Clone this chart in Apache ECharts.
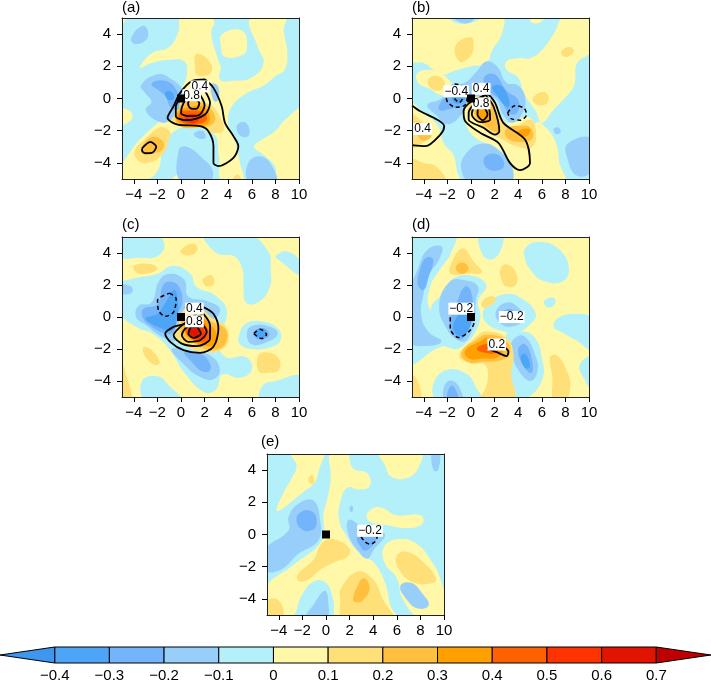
<!DOCTYPE html>
<html><head><meta charset="utf-8">
<style>html,body{margin:0;padding:0;background:#fff}#c{width:711px;height:683px}</style>
<script src="https://cdn.jsdelivr.net/npm/echarts@6/dist/echarts.min.js"></script>
</head><body><div id="c"></div>
<script>
const bandEdges=[-0.4,-0.3,-0.2,-0.1,0,0.1,0.2,0.3,0.4,0.5,0.6,0.7];
const bandColors=['#4FA5F5','#74B4FA','#98CFFA','#B4F0FA','#FFF8A8','#FFE078','#FFC040','#FFA000','#FF6000','#FF3300','#E01400'];
const lowColor='#3D97EF', highColor='#C00000';
const xTicks=[-4,-2,0,2,4,6,8,10];
const yTicks=[-4,-2,0,2,4];
const colorTicks=[-0.4,-0.3,-0.2,-0.1,0,0.1,0.2,0.3,0.4,0.5,0.6,0.7];

const regionsA=[
[-0.05,[[-5,5],[10,5],[10,-5],[-5,-5]]],
[0.05,[[0,5],[2.6,5],[2.8,3.6],[3.4,2.2],[3.3,1.2],[4.5,1.1],[6,1.3],[7,2.2],[6.5,3.2],[5.9,5],[8.8,5],[8.7,4.2],[9,3.0],[8.8,1.8],[8,1.4],[7,0.8],[5.5,0.3],[4.3,-0.5],[4.0,-1.5],[4.5,-2.5],[5,-4],[5.2,-5.2],[3.5,-5.2],[3.2,-3.5],[2.8,-2.2],[1,-1.8],[-0.5,-2],[-1.5,-3],[-2,-4.5],[-3.5,-5.2],[-5.2,-5.2],[-5.2,-4.5],[-4,-3],[-3,-2.2],[-1.5,-1.2],[-0.5,-0.4],[0,0.5],[0.5,1.5],[0.3,2.3],[-1,2.4],[-2.5,2.2],[-3.5,1.9],[-2.5,2.8],[-1,3.2],[-0.2,4.2]]],
[0.05,[[-5.2,-0.7],[-4.3,-0.8],[-4.2,-1.3],[-5.2,-1.6]]],
[0.05,[[10.2,-0.7],[9,-1.2],[8,-2],[6.8,-2.6],[6.2,-3],[7,-3.5],[8,-4.3],[8,-5.2],[10.2,-5.2]]],
[0.05,[[-5.2,5.2],[-4.5,5.2],[-5.2,4.5]]],
[-0.05,[[2.8,4.6],[5.5,4.6],[6,3],[5.5,1.7],[4,1.7],[3.2,2.3]]],
[0.05,[[3.5,4],[5.2,4.2],[5.6,3.2],[5.2,2.7],[3.7,2.6],[3.4,3.2]]],
[0.05,[[-0.8,-5.2],[-0.2,-4.7],[0.5,-5.2]]],
[0.15,[[1.2,2.7],[1.8,2.7],[2.5,2.2],[2.6,1.7],[2,1.4],[1.3,1.5],[1.2,2]]],
[0.15,[[0.3,0.1],[2.5,-0.4],[3.2,-1],[3.6,-2],[2.5,-2.1],[1.5,-1.7],[0,-1.7],[-0.8,-1.4],[-0.2,-0.6]]],
[0.15,[[-3.9,-3.2],[-3,-2.5],[-1.8,-1.8],[-1,-2],[-1,-2.5],[-1.6,-3.5],[-2.8,-4],[-3.7,-3.8]]],
[0.15,[[4.3,-5.2],[4.8,-4.7],[5.1,-5.2]]],
[0.25,[[0.3,-0.2],[1.5,-0.2],[2.7,-.8],[2.8,-1.5],[1.5,-1.8],[-.2,-1.7],[-0.4,-1]]],
[0.25,[[-3.3,-3],[-2.5,-2.4],[-1.6,-2.6],[-1.5,-3.1],[-2.3,-3.4],[-3.2,-3.4]]],
[0.35,[[-.2,-.8],[1,-.5],[1.8,-.5],[2.4,-1],[2.2,-1.6],[.5,-1.7],[-.3,-1.4]]],
[0.45,[[-0.1,-0.9],[0.8,-0.75],[2,-0.9],[2.1,-1.4],[0.8,-1.6],[-.1,-1.35]]],
[0.55,[[0.35,-1.1],[1,-.95],[1.5,-1.1],[1.4,-1.45],[0.7,-1.5]]],
[-0.15,[[-3.4,0.8],[-2,1.5],[-0.8,1.2],[0.2,0.5],[0.1,0.1],[-0.3,-0.6],[-1,-1.4],[-2,-1.4],[-3,-0.7],[-2.5,-0.2],[-3,0.3]]],
[-0.15,[[-4.2,3.8],[-3.3,4.5],[-2.8,4.2],[-3,3.6],[-4,3.4]]],
[-0.15,[[2.6,0.9],[3.1,0.8],[3.2,0],[2.9,-0.2],[2.6,0.2]]],
[-0.15,[[4.8,-1.6],[5.5,-1.5],[5.8,-2.2],[5.3,-2.4],[4.8,-2.1]]],
[-0.15,[[1.1,-2.2],[1.8,-2],[2.1,-2.4],[1.6,-2.5]]],
[-0.15,[[-0.2,-3.2],[0.5,-3.0],[1.8,-3.7],[2.7,-4.5],[2.3,-5.2],[0,-5.2]]],
[-0.15,[[5.7,-4],[6.8,-3.6],[7.8,-4.3],[8,-5.2],[5.8,-5.2]]],
[-0.25,[[-2.5,0.9],[-1.3,1.1],[-0.3,0.4],[-0.2,-0.6],[-0.8,-0.6],[-1.4,0.2]]],
[-0.35,[[-1.3,0.4],[-0.8,0.4],[-0.6,0],[-0.9,-0.1],[-1.2,0]]]
];
const contoursA=[
[0,[[2.04,1.18],[2.75,.66],[3.45,-.48],[3.73,-1.51],[4.44,-2.34],[4.86,-2.96],[4.44,-3.69],[3.17,-4.2],[2.75,-4],[2.75,-2.96],[2.32,-2.03],[1.62,-1.72],[-.35,-1.61],[-1.14,-1.2],[-.63,-.48],[-.07,.35],[.92,1.08],[2.04,1.18]]],
[0,[[1.96,.56],[2.46,-.27],[2.04,-.99],[.49,-1.35],[-.44,-1.1],[-.44,-.48],[.35,.25],[1.34,.6],[1.96,.56]]],
[0,[[1.6,.25],[2,-.4],[1.6,-1],[.8,-1.1],[0,-.9],[.2,-.3],[.8,.2],[1.6,.25]]],
[0,[[.7,-.1],[1.2,0],[1.55,-.3],[1.3,-.65],[.8,-.6],[.6,-.3],[.7,-.1]]],
[0,[[-3.3,-3.1],[-2.6,-2.7],[-2.1,-3],[-2.4,-3.35],[-3,-3.4],[-3.3,-3.25],[-3.3,-3.1]]]
];
const labelsA=[[1.6,.75,'0.4'],[.9,.2,'0.8']];

const regionsB=[
[-0.05,[[-5,5],[10,5],[10,-5],[-5,-5]]],
[0.05,[[-5.2,5.2],[-2.3,5.2],[-1.3,4.7],[0,4.7],[1.5,5.2],[2.7,5.2],[2.6,4],[1.8,3],[1.3,2.2],[0,2],[-1.5,1.7],[-2.5,1.5],[-4,2.2],[-5.2,2.4]]],
[0.05,[[-4.5,1.6],[-3,1.7],[-1.7,1],[-1.6,0.4],[-2.5,0.2],[-3.5,0.6],[-4.5,1]]],
[0.05,[[-5.2,-0.3],[-4,-0.9],[-2.8,-1.7],[-2.3,-2.8],[-1.5,-3.5],[-1.2,-4.5],[-1,-5.2],[-5.2,-5.2]]],
[0.05,[[0,0.3],[1.5,0.1],[2,-0.5],[3,-1.5],[4,-1.3],[5,-1.2],[5.6,-2.2],[5.5,-3],[6.5,-3.6],[6.2,-4.5],[7,-5.2],[3,-5.2],[3.3,-4],[2,-3],[0.5,-2.5],[-0.5,-1.5],[-0.5,-0.5]]],
[0.05,[[3,2.3],[4,2.5],[5,2.5],[6,3],[7,4],[8,5.2],[10.2,5.2],[10.2,3],[9,2.2],[8.8,1],[8.5,0.5],[7,-0.7],[6,-1.5],[5.5,-0.8],[4.5,0.3],[4,1.3],[3,1.8]]],
[0.05,[[5.5,-1.5],[6.6,-2],[7.3,-3],[7.5,-4],[8,-5.2],[6.5,-5.2],[5.5,-3.5]]],
[0.05,[[5,5.2],[6.2,5.2],[6,4.8],[5.2,4.7]]],
[0.15,[[-1.3,3.3],[0,3.8],[0.2,3.1],[-0.2,2.5],[-1,2.3]]],
[0.15,[[7.7,3],[8.4,3.2],[8.7,2.9],[8.2,2.6],[7.7,2.7]]],
[0.15,[[5.3,0.1],[6.2,0.4],[6.6,0],[6.2,-0.4],[5.4,-0.3]]],
[0.15,[[-3.6,1.2],[-2.8,1.4],[-2.2,0.9],[-2.7,0.5],[-3.5,0.7]]],
[0.15,[[0.1,0.1],[1.5,0.2],[2.4,-0.9],[2.9,-1.5],[3.5,-1.9],[5,-1.3],[5.5,-2],[5.2,-3],[4,-3],[2.5,-2.5],[1.5,-2.1],[0.3,-1.3],[-0.3,-0.7]]],
[0.15,[[-5.2,-1],[-4,-1.5],[-3.5,-2],[-4,-2.7],[-5.2,-3]]],
[0.15,[[-5.2,-3.8],[-4,-4],[-3,-4.2],[-2.2,-5.2],[-5.2,-5.2]]],
[0.25,[[0.5,-0.5],[1.5,-0.1],[2,-0.9],[2.5,-1.8],[2.2,-2.1],[1.2,-1.7],[0.3,-1]]],
[0.25,[[3,-1.9],[4,-1.7],[5,-1.8],[5.2,-2.5],[4,-2.7],[3,-2.4]]],
[0.25,[[-4.5,-2],[-3.5,-2.0],[-3.4,-2.4],[-4.2,-2.6]]],
[0.35,[[0.5,-0.8],[1.2,-0.5],[1.6,-1],[1.5,-1.3],[0.9,-1.4]]],
[0.35,[[4,-2],[5,-1.9],[4.8,-2.3],[4,-2.3]]],
[-0.15,[[-3.7,-0.4],[-2.5,0],[-1.8,0.8],[-0.5,1.0],[0.5,1.7],[1.3,2.3],[2.2,2],[3,1.0],[4,0.8],[4.6,0],[4.3,-1],[3.5,-1.5],[2.7,-1],[2,0],[0,0],[-0.8,-1],[-2,-1.6],[-3,-1]]],
[-0.25,[[-2.7,-0.7],[-2.3,0],[-1,0.6],[-0.3,0.2],[-0.5,-0.4],[-1.5,-0.6]]],
[-0.25,[[1.1,1.3],[2,1.5],[3,0.5],[4,-0.1],[3.9,-0.9],[3.2,-0.9],[2.5,-0.1],[1.5,0.5]]],
[-0.35,[[-1.6,0.2],[-1,0.5],[-0.5,0.1],[-0.9,-0.3],[-1.5,-0.2]]],
[-0.35,[[1.8,0.7],[2.5,0.8],[3.2,0],[3.2,-0.5],[2.8,-0.4],[2.2,0.2]]],
[-0.15,[[-0.5,-3.5],[1,-2.8],[2.5,-3.3],[3.5,-4.3],[3.3,-5.2],[0,-5.2],[-0.8,-4.5]]],
[-0.25,[[1.2,-3.6],[2.3,-3.5],[2.8,-4.2],[2,-4.5],[1.2,-4.2]]],
[-0.15,[[8.2,-2.8],[10.2,-2.5],[10.2,-4.5],[9,-4.8],[8.2,-3.8]]],
[-0.15,[[7.0,-1.9],[7.4,-1.8],[7.6,-2.1],[7.2,-2.2]]],
[-0.15,[[-1.5,5.2],[0.3,5.2],[0,4.75],[-1,4.75]]]
];
const contoursB=[
[0,[[1.48,.25],[2.04,-.27],[2.75,-1.51],[4.58,-2.55],[5,-4],[4.15,-4.45],[3.3,-4],[2.32,-2.75],[.77,-2.13],[-.49,-1.41],[-.63,-.79],[.07,-.17],[1.48,.25]]],
[0,[[1.2,.25],[1.9,-.48],[2.4,-2.03],[2.04,-2.24],[1.06,-1.82],[-.2,-1.3],[-.2,-.89],[.35,-.27],[1.2,.25]]],
[0,[[.92,.14],[1.48,-.48],[1.62,-1.3],[.77,-1.47],[.07,-.99],[.35,-.37],[.92,.14]]],
[0,[[1.06,-.48],[1.4,-.99],[1,-1.35],[.55,-.99],[.63,-.58],[1.06,-.48]]],
[0,[[-5,-.43],[-4.3,-.79],[-2.9,-1.3],[-2.27,-1.72],[-2.6,-2.24],[-3.87,-2.96],[-5,-2.9]]],
[1,[[-1.4,.9],[-.8,.8],[-.3,.3],[-.5,-.4],[-1.3,-.55],[-2,-.2],[-2.1,.2],[-1.4,.9]]],
[1,[[-1.4,0],[-1,-.25],[-.7,0]]],
[1,[[3.1,-.9],[3.7,-.45],[4.5,-.6],[4.7,-1],[4.2,-1.35],[3.4,-1.25],[3.1,-.9]]]
];
const labelsB=[[-1.25,.45,'−0.4'],[.86,.6,'0.4'],[.86,-.3,'0.8'],[-4.1,-1.9,'0.4']];

const regionsC=[
[0.05,[[-5,5],[10,5],[10,-5],[-5,-5]]],
[-0.05,[[-5.2,5.2],[-2.2,5.2],[-1.4,4.5],[-2,3.8],[-3.5,3.7],[-5.2,3.8]]],
[-0.05,[[2,5.2],[5.6,5.2],[7.4,4.1],[7.6,3],[7.5,1.8],[6.5,0.9],[5.5,0.9],[5.3,1.9],[5.2,3],[4.5,3.8],[3,4]]],
[-0.05,[[8,3.8],[9,4.1],[10.2,3.4],[10.2,2.6],[8.4,3.5]]],
[-0.05,[[-5.2,2],[-4,2.4],[-2,2.7],[-0.7,3.2],[0.8,2.7],[1.3,1.9],[3,1.3],[3.9,0.3],[3.2,-1.5],[3.8,-2.5],[5.5,-2.5],[6,-3.3],[5,-3.8],[3.5,-3.6],[3,-4.5],[2,-4.7],[0.3,-3.5],[-1,-2],[-2.5,-1],[-3.6,-.7],[-5.2,0.3]]],
[-0.05,[[-3.3,-4],[-2,-3.7],[-1,-4.3],[0,-5.2],[-3,-5.2]]],
[-0.05,[[6.8,-5.2],[6.9,-4.3],[8,-4],[10.2,-3.7],[10.2,-5.2]]],
[-0.05,[[4.9,-1.2],[5.5,-.4],[7,-.3],[8.3,-.8],[8.4,-1.5],[7.5,-1.9],[6,-2],[5,-1.7]]],
[0.15,[[0,4.2],[1,4.6],[1.4,4.3],[1,3.9],[0.2,3.9]]],
[0.15,[[-4,3.2],[-2.5,3.3],[-2,3],[-3,2.7],[-3.8,2.8]]],
[0.15,[[1.9,2.4],[2.6,2.6],[2.8,2.1],[2.3,1.9],[1.9,2.1]]],
[0.15,[[-3.2,-1.9],[-2.6,-2],[-1.8,-2.8],[-2.2,-3],[-3,-2.5]]],
[0.15,[[-5.2,-2.6],[-4.7,-3.5],[-4.2,-5.2],[-5.2,-5.2]]],
[0.15,[[6.5,-2.5],[7,-2.2],[8.2,-2.5],[8.3,-3.3],[7.3,-3.5],[6.6,-3.4]]],
[-0.15,[[-5.2,2],[-4.2,1.9],[-4.2,1.5],[-5.2,1.5]]],
[-0.15,[[-3.6,.7],[-2.5,.9],[-1.9,2.2],[-1,2.7],[.3,2.3],[.6,1.3],[2.2,1],[3.3,.5],[2.6,-.2],[.2,-.3],[0,-.8],[-.5,-1.5],[-1.5,-1.3],[-3,-.5],[-3.8,0]]],
[-0.15,[[-.8,-2],[1,-2.2],[2.5,-2.4],[3.3,-3.3],[2.7,-3.9],[1.5,-3.7],[0.3,-3]]],
[-0.15,[[5.6,-.9],[6.3,-.5],[7.5,-.6],[8.2,-1],[7.5,-1.5],[6,-1.7]]],
[-0.25,[[-3.2,.5],[-2,.8],[-1.5,2],[-.8,2.2],[-.1,1.8],[.1,.9],[-.3,.1],[-.7,-1],[-1.5,-1],[-2.5,-.6],[-3.2,-.1]]],
[-0.25,[[.3,-2.2],[1.5,-2.3],[2.2,-2.6],[2.5,-3.3],[1.8,-3.4],[.9,-2.8]]],
[-0.25,[[6.2,-.9],[7,-.7],[7.5,-1.1],[7,-1.4],[6.3,-1.3]]],
[-0.35,[[-3,-.1],[-2,.2],[-1.3,.9],[-.6,1.7],[-.3,1.2],[-.3,.1],[-.7,-.8],[-1.4,-.8]]],
[-0.35,[[6.2,-1],[6.9,-.7],[7.2,-1.1],[6.8,-1.35]]],
[0.15,[[0.3,0.5],[1.5,0.6],[2.7,-.1],[3.8,-.6],[4,-1.5],[3.3,-2.1],[2,-2.2],[0.6,-1.9],[-.6,-1.3],[-.3,-.6]]],
[0.25,[[0.4,0.3],[1.6,0.3],[2.6,-.3],[3.7,-.7],[3.9,-1.4],[3.2,-2],[2,-2],[1,-1.6],[0,-1.1]]],
[0.35,[[0.5,-.1],[1.6,0],[2.5,-.5],[3,-1],[3,-1.7],[2,-1.8],[1,-1.5],[.3,-.9]]],
[0.45,[[.6,-.3],[1.6,-.2],[2.3,-.8],[2.4,-1.4],[1.8,-1.6],[1,-1.4],[.4,-.9]]],
[0.55,[[.7,-.5],[1.5,-.4],[2,-.9],[2.1,-1.3],[1.5,-1.4],[.8,-1.2],[.6,-.8]]],
[0.65,[[.8,-.6],[1.4,-.6],[1.5,-1.1],[1.1,-1.2],[.75,-1]]]
];
const contoursC=[
[0,[[1.9,.62],[2.75,.2],[3.17,-.72],[2.75,-1.86],[1.62,-2.24],[.21,-2.07],[-.92,-1.55],[-1.34,-1.04],[-.63,-.62],[.35,-.4],[1.9,.62]]],
[0,[[1.9,.2],[2.46,-.52],[2.46,-1.35],[1.34,-1.82],[.07,-1.66],[-.63,-1.14],[-.07,-.62],[.5,-.31],[1.9,.2]]],
[0,[[1.62,-.31],[2.18,-.93],[1.62,-1.45],[.63,-1.55],[.07,-1.14],[.5,-.62],[1.62,-.31]]],
[0,[[1.39,-.62],[1.68,-1.04],[1.06,-1.3],[.63,-1.04],[.92,-.62],[1.39,-.62]]],
[1,[[-.97,1.49],[-.41,1.14],[-.63,.31],[-1.34,.04],[-1.9,.41],[-1.99,1.04],[-.97,1.49]]],
[1,[[6.18,-1.04],[6.69,-.77],[7.25,-1.1],[6.83,-1.35],[6.18,-1.04]]]
];
const labelsC=[[1.14,.52,'0.4'],[1.14,-.27,'0.8']];

const regionsD=[
[0.05,[[-5,5],[10,5],[10,-5],[-5,-5]]],
[-0.05,[[-5.2,5.2],[-1.4,5.2],[-1.7,4],[-2.6,3],[-3.5,1.8],[-3.5,.5],[-2,-1],[-1.5,-1.5],[-3,-2],[-5.2,-2.8]]],
[-0.05,[[-3.4,.5],[-2.5,1.4],[-1.5,2.4],[0,2.6],[1.3,2],[.6,1],[.8,0],[.3,-1],[-.5,-1.7],[-1.5,-2],[-3,-1.3]]],
[-0.05,[[.8,5.2],[2.6,5.2],[2.4,4],[1.5,3.6],[.8,4.2]]],
[-0.05,[[1,.2],[1.7,1],[2.7,1.4],[4,1.3],[5.5,.2],[4.8,-.6],[3.8,-1],[2.8,-.9],[1.5,-.5]]],
[-0.05,[[2.9,-1.2],[4,-.9],[5.3,-1.2],[6,-2.5],[6,-4],[4.5,-5.2],[3.7,-5.2],[3.2,-3.5]]],
[-0.05,[[4.6,4.3],[5.8,4.7],[7.5,4.2],[8.3,3],[7.7,2.2],[6,2.3],[5,3],[4.6,3.6]]],
[-0.05,[[6.2,1],[7,1.2],[7.1,.8],[6.5,.6]]],
[-0.05,[[7,-.6],[7.5,0],[9,.2],[10.2,-.1],[10.2,-2],[9,-1.5],[7.8,-1]]],
[-0.05,[[10.2,-2.5],[9.2,-3],[9.7,-4],[10.2,-4.5]]],
[-0.05,[[-3.2,-4.2],[-2,-3.3],[-.3,-3.6],[.5,-4.5],[1,-5.2],[-2.8,-5.2]]],
[-0.15,[[-5.2,1.5],[-4.5,3],[-3.7,4.2],[-2.5,4.4],[-2.7,3.6],[-3.5,2.7],[-4,1.5],[-4.2,0],[-3.5,-1],[-2.5,-1.5],[-3.5,-1.8],[-5.2,-1.5]]],
[-0.15,[[-2.7,.7],[-1.8,2.2],[-.5,2.3],[.6,1.9],[.4,1],[.3,-.2],[-.3,-1.4],[-1,-1.5],[-2,-.8]]],
[-0.15,[[2.1,.3],[3,.9],[4,.6],[4.5,-.1],[3.5,-.6],[2.5,-.4]]],
[-0.15,[[3.5,-1.5],[4.5,-1.2],[5.5,-2.5],[5.6,-3.5],[5,-4],[4,-3.3],[3.5,-2.3]]],
[-0.15,[[-2.2,-4.2],[-1.5,-4],[-.8,-4.7],[-.8,-5.2],[-2.2,-5.2]]],
[-0.25,[[-4.3,3],[-3.8,3.7],[-3.2,3.6],[-3.6,2.5],[-4,1.7],[-4.5,2]]],
[-0.25,[[-1.8,-.6],[-1.2,.9],[-.5,1.9],[0,1.6],[.1,.4],[-.3,-.9],[-1,-1.4]]],
[-0.25,[[2.5,.2],[3.3,.5],[4,0],[3.2,-.3]]],
[-0.25,[[4,-2],[4.6,-1.7],[5.2,-2.8],[5.1,-3.5],[4.4,-3]]],
[-0.25,[[-2,-5.2],[-1.7,-4.3],[-1.2,-4.7],[-1.2,-5.2]]],
[-0.35,[[-1.5,-.7],[-1.2,0],[-.7,.3],[0,.1],[-.2,-.8],[-.9,-1.2]]],
[-0.35,[[4.2,-2.5],[4.6,-2.3],[5,-3.1],[4.6,-3.2]]],
[0.15,[[-1.7,3.3],[-.7,4.3],[.2,3.5],[.9,2.8],[-.3,2.7],[-1.7,2.7]]],
[0.25,[[-1.3,3.1],[-.7,3.4],[-.2,3],[-.8,2.7]]],
[0.15,[[2.5,3],[3,3.3],[3.8,2.8],[3.8,2],[3,1.9],[2.6,2.3]]],
[0.15,[[.9,.9],[1.6,1.3],[2.1,1.1],[1.6,.7],[1,.6]]],
[0.15,[[-1,-2.4],[.5,-1.2],[1.3,-.9],[3,-1.3],[3.6,-2.3],[3.4,-3.5],[3.6,-5.2],[1,-5.2],[1.4,-4],[1.2,-3],[0,-2.9]]],
[0.25,[[-.8,-2.2],[.5,-1.4],[1.5,-1.1],[3,-1.5],[3.3,-2.3],[2.5,-2.7],[1,-2.8],[-.3,-2.8]]],
[0.35,[[-.5,-2.1],[.7,-1.55],[1.5,-1.3],[2.7,-1.9],[2.3,-2.5],[1,-2.6],[-.2,-2.6]]],
[0.45,[[.5,-2],[1.2,-1.7],[2.2,-1.8],[2.2,-2.2],[1.3,-2.25]]],
[0.15,[[6.7,-2.5],[7.3,-2.4],[8.2,-3.5],[8.4,-4.5],[8,-5.2],[7,-5.2],[6.9,-3.8]]],
[0.15,[[-5.2,-3.6],[-4.5,-4],[-4.3,-5.2],[-5.2,-5.2]]]
];
const contoursD=[
[1,[[-1,.5],[-1.76,.2],[-1.76,-.72],[-1.06,-1.28],[-.2,-.93],[.27,-.31],[.07,.1]]],
[0,[[1.39,-1.97],[2.18,-2.2],[3.03,-2.44],[3.17,-2.17],[2.75,-1.86],[2,-1.65],[1.39,-1.97]]]
];
const labelsD=[[-.83,.52,'−0.2'],[3.45,0,'−0.2'],[2.18,-1.72,'0.2']];

const regionsE=[
[-0.05,[[-5,5],[10,5],[10,-5],[-5,-5]]],
[0.05,[[-3.1,5.2],[-.3,5.2],[-.6,4],[-1,3.2],[-2,2.6],[-3,2],[-3.9,1.5],[-4.2,1.5],[-3.6,2.6],[-2.9,3.5],[-2.5,4.3]]],
[0.05,[[.4,5.2],[1.7,5.2],[2.3,4.1],[3.5,3.8],[3.7,3],[2.8,2.8],[1.8,2.9],[1.2,2],[1.1,1],[1.5,.2],[3,-1.3],[4,-1.7],[5,-3],[5.5,-4.5],[6,-5.2],[1,-5.2],[.6,-4],[0,-3],[-1,-2.9],[-2,-3.7],[-3,-5.2],[-5.2,-5.2],[-5.2,-3.4],[-2.6,-1.8],[-.35,-.35],[-.2,1.3],[.2,2.5],[.4,3.5]]],
[0.05,[[4.5,5.2],[8,5.2],[7.8,4.1],[6.8,3.5],[5.5,3.6],[5,4.3]]],
[0.05,[[3.5,1.3],[4.5,1.7],[6,1.2],[8,1.2],[8.2,.7],[7,.4],[5,.6],[3.7,.8]]],
[0.05,[[4.9,-.8],[6,-.3],[7.5,-.5],[8.8,-1.5],[9.8,-3],[10.2,-5.2],[8,-5.2],[6.5,-4],[6,-2.7],[5,-1.8]]],
[0.15,[[-2.4,-2.5],[-1,-1.5],[-.3,-.5],[.7,-.3],[2,-.9],[1.8,-1.4],[.8,-1.7],[-.5,-2.2],[-1.5,-2.8],[-2.3,-2.9]]],
[0.15,[[1.3,-3.3],[2.7,-2.3],[4,-2.8],[4.8,-4],[5.6,-5.2],[1.5,-5.2],[1.2,-4]]],
[0.15,[[-5.2,-4.2],[-4,-4.1],[-3.7,-5.2],[-5.2,-5.2]]],
[0.15,[[6,-1.3],[7,-1.1],[8.5,-1.9],[9.3,-2.7],[9.1,-3],[7.5,-3],[6.2,-2.2]]],
[0.15,[[-1.5,3.4],[-1.2,3.7],[-1,3.3],[-1.2,3.1]]],
[0.25,[[2.3,-4],[2.6,-3.3],[3.2,-2.7],[3.7,-3.3],[3.1,-4.1],[2.5,-4.2]]],
[-0.15,[[-5.2,-.97],[-3.17,.27],[-3.17,1.1],[-2.3,1.93],[-1.06,2.09],[-.5,.89],[-.63,-.35],[-2.3,-1.18],[-3.87,-2.2],[-5.2,-2.2]]],
[-0.15,[[1.9,.9],[2.8,.6],[3.8,.1],[5,0],[4,-1],[3.5,-1.5],[2.7,-1],[1.9,0]]],
[-0.15,[[2,1.7],[2.2,1.8],[2.3,1.5],[2.1,1.4]]],
[-0.15,[[6.3,-3.2],[7.2,-3],[8.2,-3.7],[8.7,-4.4],[7.8,-4.6],[6.8,-4]]],
[-0.15,[[9,5.2],[9.6,5.2],[9.5,4],[9.1,4]]],
[-0.15,[[-1.7,-5.2],[-1,-4.3],[-.1,-3.5],[.2,-4.2],[0,-5.2]]],
[-0.25,[[-2.5,1],[-1.8,1.5],[-1,1.3],[-.8,.7],[-1.1,.3],[-2,.3]]],
[-0.25,[[2.6,-.2],[3,.1],[4.3,-.1],[3.9,-.7],[3.3,-1],[2.8,-.6]]]
];
const contoursE=[
[1,[[2.97,-.14],[3.3,-.45],[3.73,-.6],[4.15,-.45],[4.35,-.14]]]
];
const labelsE=[[3.73,.23,'−0.2']];
const centerPoint=[[0,0]];

const panels=[
 {t:'(a)',l:122,top:18,w:177,h:161,r:regionsA,c:contoursA,k:labelsA},
 {t:'(b)',l:412,top:18,w:177,h:161,r:regionsB,c:contoursB,k:labelsB},
 {t:'(c)',l:122,top:237,w:177,h:160,r:regionsC,c:contoursC,k:labelsC},
 {t:'(d)',l:412,top:237,w:177,h:160,r:regionsD,c:contoursD,k:labelsD},
 {t:'(e)',l:267,top:454,w:177,h:161,r:regionsE,c:contoursE,k:labelsE}
];
const FONT='"Liberation Sans",Arial,sans-serif';
function colorOf(v){
  if(v<bandEdges[0])return lowColor;
  if(v>bandEdges[bandEdges.length-1])return highColor;
  for(let i=0;i<bandColors.length;i++) if(v>=bandEdges[i]&&v<bandEdges[i+1])return bandColors[i];
  return highColor;
}
const fmt=v=>{const a=Math.abs(v);const s=(a<1e-9)?'0':(Number.isInteger(+v)?String(a):a.toFixed(1));return (v<-1e-9?'−':'')+s;};
const grid=[],xAxis=[],yAxis=[],series=[],title=[];
panels.forEach((p,i)=>{
  grid.push({left:p.l,top:p.top,width:p.w,height:p.h});
  const line={show:true,onZero:false,lineStyle:{color:'#222',width:1}};
  xAxis.push({gridIndex:i,type:'value',min:-5,max:10,position:'bottom',z:10,splitLine:{show:false},axisLine:line,
    axisTick:{show:true,length:5,customValues:xTicks,lineStyle:{color:'#000',width:1}},
    axisLabel:{show:true,customValues:xTicks,formatter:fmt,color:'#000',fontFamily:FONT,fontSize:15,margin:8}});
  xAxis.push({gridIndex:i,type:'value',min:-5,max:10,position:'top',z:10,splitLine:{show:false},axisLine:line,axisTick:{show:false},axisLabel:{show:false}});
  yAxis.push({gridIndex:i,type:'value',min:-5,max:5,position:'left',z:10,splitLine:{show:false},axisLine:line,
    axisTick:{show:true,length:5,customValues:yTicks,lineStyle:{color:'#000',width:1}},
    axisLabel:{show:true,customValues:yTicks,formatter:fmt,color:'#000',fontFamily:FONT,fontSize:15,margin:11}});
  yAxis.push({gridIndex:i,type:'value',min:-5,max:5,position:'right',z:10,splitLine:{show:false},axisLine:line,axisTick:{show:false},axisLabel:{show:false}});
  const xi=2*i,yi=2*i;
  series.push({type:'custom',xAxisIndex:xi,yAxisIndex:yi,coordinateSystem:'cartesian2d',clip:true,silent:true,z:1,
    data:p.r.map((r,j)=>[j,r[0]]),
    renderItem:(params,api)=>{
      const r=p.r[api.value(0)];
      const isRect=r[1].length===4&&r[1][0][0]===-5&&r[1][1][0]===10;
      return {type:'polygon',shape:{points:r[1].map(q=>api.coord(q)),smooth:isRect?0:0.45},style:{fill:colorOf(api.value(1)),stroke:null}};
    }});
  p.c.forEach(c=>{
    series.push({type:'line',xAxisIndex:xi,yAxisIndex:yi,data:c[1],smooth:0.3,showSymbol:false,symbol:'none',silent:true,z:3,clip:true,
      lineStyle:{color:'#000',width:c[0]?1.5:1.8,type:c[0]?[4,3]:'solid'}});
  });
  series.push({type:'scatter',xAxisIndex:xi,yAxisIndex:yi,data:p.k,symbolSize:0.01,silent:true,z:4,clip:false,itemStyle:{opacity:1},
    label:{show:true,position:'inside',opacity:1,formatter:o=>o.value[2],color:'#000',fontFamily:FONT,fontSize:12,backgroundColor:'#fff',padding:[0,1,0,1],lineHeight:12}});
  series.push({type:'scatter',xAxisIndex:xi,yAxisIndex:yi,data:centerPoint,symbol:'rect',symbolSize:8,silent:true,z:5,itemStyle:{color:'#000',opacity:1}});
  title.push({text:p.t,left:p.t==='(e)'?261:p.l,top:i<2?0:p.top-20,padding:0,textStyle:{fontFamily:FONT,fontSize:15,fontWeight:'normal',color:'#000'}});
});
// colour bar
const cb=panels.length;
grid.push({left:0,top:647,width:711,height:16});
xAxis.push({gridIndex:cb,type:'value',min:-0.5,max:0.8,splitLine:{show:false},axisLine:{show:false},axisTick:{show:false},
  axisLabel:{show:true,customValues:colorTicks,formatter:fmt,color:'#000',fontFamily:FONT,fontSize:15,margin:5}});
yAxis.push({gridIndex:cb,type:'value',min:0,max:1,show:false});
const cbIdxX=xAxis.length-1,cbIdxY=yAxis.length-1;
series.push({type:'custom',xAxisIndex:cbIdxX,yAxisIndex:cbIdxY,coordinateSystem:'cartesian2d',clip:false,silent:true,z:2,
  data:bandColors.map((c,i)=>[bandEdges[i],bandEdges[i+1]]),
  renderItem:(params,api)=>{
    const a=api.coord([api.value(0),1]),b=api.coord([api.value(1),0]);
    return {type:'rect',shape:{x:a[0],y:a[1],width:b[0]-a[0],height:b[1]-a[1]},style:{fill:bandColors[params.dataIndex],stroke:'#000',lineWidth:1}};
  }});
series.push({type:'custom',xAxisIndex:cbIdxX,yAxisIndex:cbIdxY,coordinateSystem:'cartesian2d',clip:false,silent:true,z:2,
  data:[[-0.4,-0.5],[0.7,0.8]],
  renderItem:(params,api)=>{
    const a=api.value(0),t=api.value(1);
    return {type:'polygon',shape:{points:[api.coord([a,1]),api.coord([t,0.5]),api.coord([a,0])]},style:{fill:params.dataIndex?highColor:lowColor,stroke:'#000',lineWidth:1}};
  }});
const chart=echarts.init(document.getElementById('c'),null,{renderer:'canvas',width:711,height:683});
chart.setOption({animation:false,backgroundColor:'#fff',title,grid,xAxis,yAxis,series});
</script></body></html>
